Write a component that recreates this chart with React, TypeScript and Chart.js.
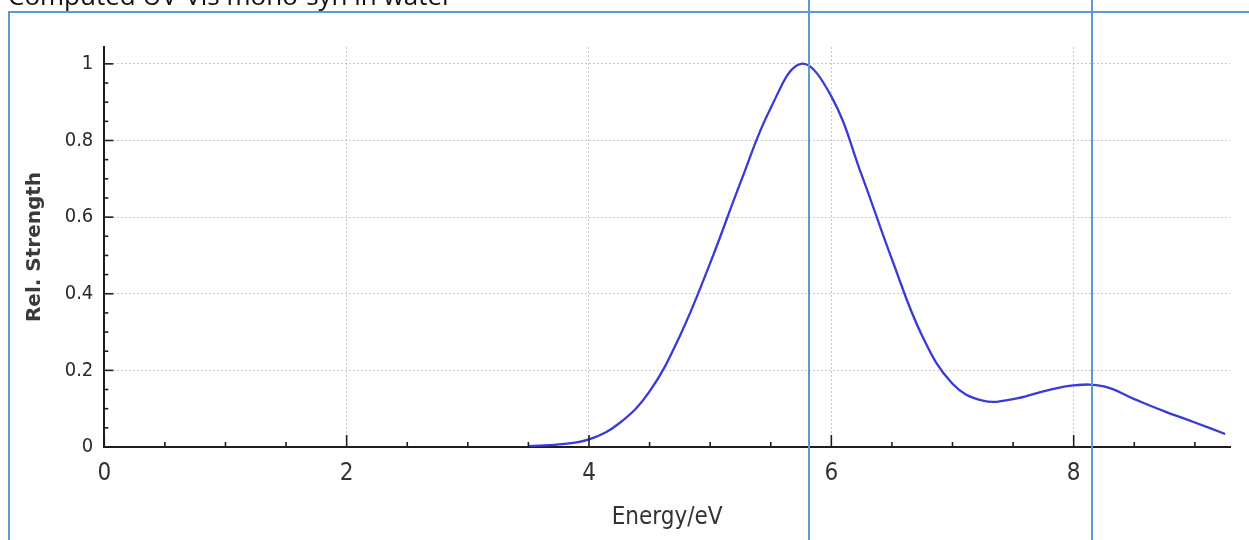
import React, { useEffect, useRef } from "react";
import { Chart, registerables } from "chart.js";

Chart.register(...registerables);

// ---- data ----
const ENERGY = [
  3.5, 3.75, 4.0, 4.25, 4.5, 4.75, 5.0, 5.25, 5.5, 5.75, 6.0, 6.25, 6.5, 6.75, 7.0,
  7.25, 7.5, 7.75, 8.0, 8.25, 8.5, 8.75, 9.0, 9.25,
];
const STRENGTH = [
  0.002, 0.007, 0.02, 0.062, 0.145, 0.29, 0.48, 0.69, 0.885, 1.0, 0.915, 0.71, 0.49,
  0.29, 0.165, 0.121, 0.125, 0.145, 0.161, 0.158, 0.125, 0.093, 0.064, 0.034,
];
const X_TICKS = [0, 2, 4, 6, 8];
const Y_TICKS = [0, 0.2, 0.4, 0.6, 0.8, 1];
const X_MINOR = [0.5, 1, 1.5, 2.5, 3, 3.5, 4.5, 5, 5.5, 6.5, 7, 7.5, 8.5, 9];
const Y_MINOR = [
  0.05, 0.1, 0.15, 0.25, 0.3, 0.35, 0.45, 0.5, 0.55, 0.65, 0.7, 0.75, 0.85, 0.9, 0.95,
];
const X_MIN = 0;
const X_MAX = 9.29;
const Y_MIN = 0;
const Y_MAX = 1.044;

const TITLE_TEXT = "Computed UV-Vis mono-syn in water";
const X_TITLE = "Energy/eV";
const Y_TITLE = "Rel. Strength";

const innerTicks = {
  id: "innerTicks",
  afterDatasetsDraw(chart: any) {
    const { ctx, chartArea, scales } = chart;
    const x = scales.x;
    const y = scales.y;
    ctx.save();
    ctx.strokeStyle = "#1e1e1e";
    ctx.lineWidth = 1.6;
    const drawX = (v: number, len: number) => {
      const px = x.getPixelForValue(v);
      ctx.beginPath();
      ctx.moveTo(px, chartArea.bottom);
      ctx.lineTo(px, chartArea.bottom - len);
      ctx.stroke();
    };
    const drawY = (v: number, len: number) => {
      const py = y.getPixelForValue(v);
      ctx.beginPath();
      ctx.moveTo(chartArea.left, py);
      ctx.lineTo(chartArea.left + len, py);
      ctx.stroke();
    };
    X_TICKS.forEach((v) => drawX(v, 12));
    X_MINOR.forEach((v) => drawX(v, 5));
    Y_TICKS.forEach((v) => drawY(v, 9));
    Y_MINOR.forEach((v) => drawY(v, 4));
    ctx.restore();
  },
};

export default function App() {
  const canvasRef = useRef<HTMLCanvasElement | null>(null);

  useEffect(() => {
    const canvas = canvasRef.current;
    if (!canvas) return;
    const chart = new Chart(canvas, {
      type: "line",
      data: {
        datasets: [
          {
            data: ENERGY.map((e, i) => ({ x: e, y: STRENGTH[i] })),
            borderColor: "rgb(58,58,215)",
            borderWidth: 2.3,
            pointRadius: 0,
            fill: false,
            tension: 0.4,
            cubicInterpolationMode: "default",
          },
        ],
      },
      options: {
        animation: false,
        responsive: false,
        events: [],
        layout: { padding: { top: 47, right: 19, bottom: 0, left: 0 } },
        plugins: {
          legend: { display: false },
          tooltip: { enabled: false },
        },
        scales: {
          x: {
            type: "linear",
            min: X_MIN,
            max: X_MAX,
            afterFit: (s: any) => {
              s.height = 93;
            },
            afterBuildTicks: (s: any) => {
              s.ticks = X_TICKS.map((v) => ({ value: v }));
            },
            ticks: {
              includeBounds: false,
              padding: 12,
              color: "#333",
              font: { family: "'Liberation Sans Narrow', 'DejaVu Sans Condensed', sans-serif", size: 24 },
              callback: (v: any) => String(v),
              maxRotation: 0,
            },
            grid: {
              color: "rgba(160,160,160,0.55)",
              lineWidth: 1,
              drawTicks: false,
            },
            border: { color: "#1e1e1e", width: 2, dash: [2, 2] },
            title: {
              display: true,
              text: X_TITLE,
              color: "#333",
              font: { family: "'Liberation Sans Narrow', 'DejaVu Sans Condensed', sans-serif", size: 24 },
              padding: { top: 0, bottom: 8 },
            },
          },
          y: {
            type: "linear",
            min: Y_MIN,
            max: Y_MAX,
            afterFit: (s: any) => {
              s.width = 104.3;
            },
            afterBuildTicks: (s: any) => {
              s.ticks = Y_TICKS.map((v) => ({ value: v }));
            },
            ticks: {
              includeBounds: false,
              padding: 11,
              color: "#2a2a2a",
              font: { family: "'DejaVu Sans Condensed', 'DejaVu Sans', sans-serif", size: 20 },
              callback: (v: any) => String(Math.round(v * 10) / 10),
            },
            grid: {
              color: "rgba(160,160,160,0.55)",
              lineWidth: 1,
              drawTicks: false,
            },
            border: { color: "#1e1e1e", width: 2, dash: [2, 2] },
            title: {
              display: true,
              text: Y_TITLE,
              color: "#3a3a3a",
              font: { family: "'DejaVu Sans', sans-serif", size: 20, weight: "bold" },
              padding: { top: 23, bottom: 0 },
            },
          },
        },
      },
      plugins: [innerTicks],
    });
    return () => chart.destroy();
  }, []);

  return (
    <div
      style={{
        position: "fixed",
        left: 0,
        top: 0,
        width: 1249,
        height: 540,
        overflow: "hidden",
        background: "#fff",
      }}
    >
      <canvas
        ref={canvasRef}
        width={1249}
        height={540}
        style={{ position: "absolute", left: 0, top: 0, display: "block" }}
      />
      <div
        style={{
          position: "absolute",
          left: 8,
          top: -20,
          fontFamily: "'Open Sans', sans-serif",
          fontSize: 26,
          lineHeight: "30px",
          color: "#111",
          whiteSpace: "nowrap",
        }}
      >
        {TITLE_TEXT}
      </div>
      <div style={{ position: "absolute", left: 8, top: 11, width: 1241, height: 2, background: "#5b9bd5" }} />
      <div style={{ position: "absolute", left: 8, top: 11, width: 2, height: 529, background: "#5b9bd5" }} />
      <div style={{ position: "absolute", left: 808, top: 0, width: 1.5, height: 540, background: "#5b9bd5" }} />
      <div style={{ position: "absolute", left: 1091, top: 0, width: 1.5, height: 540, background: "#5b9bd5" }} />
    </div>
  );
}
